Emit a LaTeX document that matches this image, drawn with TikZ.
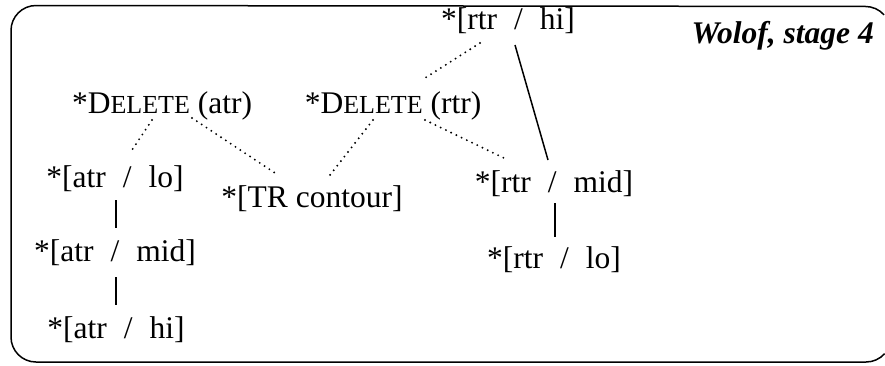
\documentclass[tikz,border=0pt]{standalone}
\usepackage{fontspec}
\setmainfont{Liberation Serif}
\usetikzlibrary{calc}
\newcommand\fakesc[1]{{\fontsize{26}{29}\selectfont #1}}
\newcommand\slsep{\hspace{0.54em}/\hspace{0.54em}}
\begin{document}
\begin{tikzpicture}[x=1pt,y=1pt,
  lbl/.style={anchor=base,inner sep=0pt,font=\fontsize{31.5}{34}\selectfont},
  dotline/.style={line width=2.1pt,dash pattern=on 0pt off 5.8pt,line cap=round},
  solidline/.style={line width=1.5pt},
  frame/.style={line width=1.5pt}]
\useasboundingbox (0,0) rectangle (885,-365);
\draw[frame] (884,-14.8) arc[start angle=41.8,end angle=90,radius=25]
  -- (36,-5.5) arc[start angle=90,end angle=180,radius=25]
  -- (11,-337) arc[start angle=180,end angle=270,radius=25]
  -- (866,-362) arc[start angle=270,end angle=318.2,radius=25];
\node[lbl] (rh) at (508,-29) {*[rtr\slsep hi]};
\node[lbl,anchor=base east,font=\fontsize{31.5}{34}\selectfont\bfseries\itshape] (wo) at (874,-43) {Wolof, stage 4};
\node[lbl] (da) at (162,-113) {*D\fakesc{ELETE} (atr)};
\node[lbl] (dr) at (393,-113) {*D\fakesc{ELETE} (rtr)};
\node[lbl] (alo) at (115,-187) {*[atr\slsep lo]};
\node[lbl] (tr) at (312,-207) {*[TR contour]};
\node[lbl] (rm) at (554,-192) {*[rtr\slsep mid]};
\node[lbl] (am) at (115,-261) {*[atr\slsep mid]};
\node[lbl] (rl) at (554,-268) {*[rtr\slsep lo]};
\node[lbl] (ah) at (116,-338) {*[atr\slsep hi]};
\draw[dotline] ($(da.base)+(-10,-7)$) -- ($(alo.base)+(15,34)$);
\draw[dotline] ($(da.base)+(30,-5)$) -- ($(tr.base)+(-34,32)$);
\draw[dotline] ($(dr.base)+(-20,-7)$) -- ($(tr.base)+(18,32)$);
\draw[dotline] ($(rh.base)+(-28,-14)$) -- ($(dr.base)+(32,35)$);
\draw[dotline] ($(dr.base)+(32,-7)$) -- ($(rm.base)+(-46,32)$);
\draw[solidline] ($(rh.base)+(7,-16)$) -- ($(rm.base)+(-6,32)$);
\draw[solidline] ($(alo.base)+(1,-13)$) -- ($(am.base)+(1,33)$);
\draw[solidline] ($(am.base)+(1,-16)$) -- ($(ah.base)+(0,33)$);
\draw[solidline] ($(rm.base)+(1,-11)$) -- ($(rl.base)+(1,31)$);
\end{tikzpicture}
\end{document}
